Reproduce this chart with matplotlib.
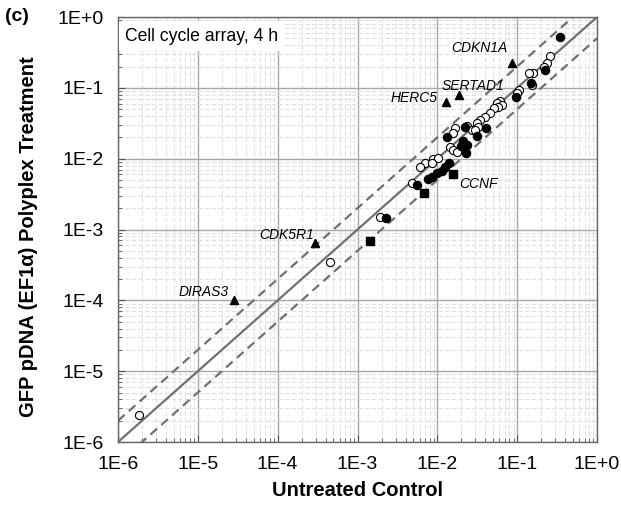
import matplotlib
matplotlib.use("Agg")
import matplotlib.pyplot as plt
import numpy as np
from matplotlib.ticker import LogLocator, FixedLocator, FuncFormatter, NullFormatter

plt.rcParams['font.family'] = ['Liberation Sans', 'DejaVu Sans']

# Filled circles (control, treatment)
filled_x = [0.346, 0.224, 0.150, 0.097, 0.0219, 0.0406, 0.0318, 0.0131, 0.0212, 0.0234,
            0.0199, 0.0230, 0.0138, 0.0125, 0.0114, 0.0100, 0.00853, 0.00772, 0.00562, 0.00228]
filled_y = [0.517, 0.178, 0.118, 0.0749, 0.0282, 0.0273, 0.0209, 0.0200, 0.0179, 0.0156,
            0.0151, 0.0119, 0.00859, 0.00769, 0.00675, 0.00632, 0.00555, 0.00510, 0.00424, 0.00144]

# Open circles
open_x = [0.259, 0.236, 0.218, 0.157, 0.139, 0.153, 0.104, 0.0991, 0.0612, 0.0557,
          0.0643, 0.0583, 0.0505, 0.0459, 0.0397, 0.0344, 0.0313, 0.0234, 0.0167, 0.0159,
          0.0145, 0.0159, 0.0175, 0.00893, 0.0103, 0.00703, 0.00608, 0.00853, 0.00479,
          0.0327, 0.0270, 0.0298, 0.00192, 0.000457, 0.00000183]
open_y = [0.281, 0.222, 0.199, 0.160, 0.163, 0.108, 0.0931, 0.0853, 0.0651, 0.0604,
          0.0572, 0.0530, 0.0513, 0.0436, 0.0391, 0.0351, 0.0315, 0.0289, 0.0268, 0.0228,
          0.0147, 0.0132, 0.0125, 0.00977, 0.0101, 0.00859, 0.00769, 0.00859, 0.00457,
          0.0282, 0.0254, 0.0254, 0.00148, 0.000347, 0.00000237]

# Triangles (labelled genes)
tri_genes = ['CDKN1A', 'SERTAD1', 'HERC5', 'CDK5R1', 'DIRAS3']
tri_x = [0.085, 0.0188, 0.0129, 0.000294, 0.0000287]
tri_y = [0.222, 0.078, 0.063, 0.000637, 0.000100]

# Squares
sq_genes = ['CCNF', '', '']
sq_x = [0.0158, 0.00684, 0.00145]
sq_y = [0.0060, 0.00323, 0.00069]

xtick_vals = [1e-6, 1e-5, 1e-4, 1e-3, 1e-2, 1e-1, 1e0]
tick_labels = ['1E-6', '1E-5', '1E-4', '1E-3', '1E-2', '1E-1', '1E+0']


def fmt(v, p):
    i = int(np.argmin([abs(np.log10(t) - np.log10(v)) for t in xtick_vals]))
    return tick_labels[i]


fig = plt.figure(figsize=(6.21, 5.09), dpi=100)
ax = fig.add_axes([0.19, 0.1316, 0.7714, 0.835])
ax.set_xscale('log')
ax.set_yscale('log')
ax.set_xlim(1e-6, 1)
ax.set_ylim(1e-6, 1)

ax.xaxis.set_major_locator(FixedLocator(xtick_vals))
ax.yaxis.set_major_locator(FixedLocator(xtick_vals))
ax.xaxis.set_major_formatter(FuncFormatter(fmt))
ax.yaxis.set_major_formatter(FuncFormatter(fmt))
ax.xaxis.set_minor_locator(LogLocator(base=10, subs=np.arange(2, 10), numticks=20))
ax.yaxis.set_minor_locator(LogLocator(base=10, subs=np.arange(2, 10), numticks=20))
ax.xaxis.set_minor_formatter(NullFormatter())
ax.yaxis.set_minor_formatter(NullFormatter())

ax.grid(True, which='major', color='#a8a8a8', linewidth=1.0, zorder=0)
ax.grid(True, which='minor', color='#e0e0e0', linewidth=0.8, linestyle=(0, (4, 2)), zorder=0)
ax.set_axisbelow(True)

ax.tick_params(which='major', direction='in', length=5, width=0.8, colors='#555555',
               labelsize=14, labelcolor='black', pad=10)
ax.tick_params(which='minor', direction='in', length=3, width=0.6, colors='#555555')
for s in ax.spines.values():
    s.set_color('#666666')
    s.set_linewidth(1.0)

line = np.array([1e-6, 1.0])
ax.plot(line, line, color='#707070', lw=1.6, zorder=2)
ax.plot(line, 2 * line, color='#707070', lw=1.6, ls=(0, (4, 2.5)), zorder=2)
ax.plot(line, line / 2, color='#707070', lw=1.6, ls=(0, (4, 2.5)), zorder=2)

ms = 34
ax.scatter(open_x, open_y, s=ms, facecolors='white', edgecolors='black', linewidths=0.8, zorder=3)
ax.scatter(filled_x, filled_y, s=ms, color='black', zorder=4)
ax.scatter(tri_x, tri_y, s=ms, marker='^', color='black', zorder=4)
ax.scatter(sq_x, sq_y, s=ms, marker='s', color='black', zorder=4)

lab_kw = dict(fontsize=10, style='italic', zorder=5)
ax.annotate(tri_genes[0], (tri_x[0], tri_y[0]), xytext=(-3, 6), textcoords='offset points', ha='right', va='bottom', **lab_kw)
ax.annotate(tri_genes[1], (tri_x[1], tri_y[1]), xytext=(-13, 2), textcoords='offset points', ha='left', va='bottom', **lab_kw)
ax.annotate(tri_genes[2], (tri_x[2], tri_y[2]), xytext=(-6, -2), textcoords='offset points', ha='right', va='bottom', **lab_kw)
ax.annotate(tri_genes[3], (tri_x[3], tri_y[3]), xytext=(-1, 1), textcoords='offset points', ha='right', va='bottom', **lab_kw)
ax.annotate(tri_genes[4], (tri_x[4], tri_y[4]), xytext=(-4, 1), textcoords='offset points', ha='right', va='bottom', **lab_kw)
ax.annotate(sq_genes[0], (sq_x[0], sq_y[0]), xytext=(4, -2), textcoords='offset points', ha='left', va='top', **lab_kw)

ax.text(0.014, 0.975, 'Cell cycle array, 4 h', transform=ax.transAxes, fontsize=12.7,
        ha='left', va='top', zorder=6,
        bbox=dict(boxstyle='square,pad=0.35', facecolor='white', edgecolor='none'))

ax.set_xlabel('Untreated Control', fontsize=14.5, fontweight='bold', labelpad=6)
ax.set_ylabel('GFP pDNA (EF1α) Polyplex Treatment', fontsize=14.5, fontweight='bold')
ax.yaxis.set_label_coords(-0.167, 0.482)

fig.text(0.008, 0.985, '(c)', fontsize=14, fontweight='bold', ha='left', va='top')

fig.savefig('out.png', dpi=100)
